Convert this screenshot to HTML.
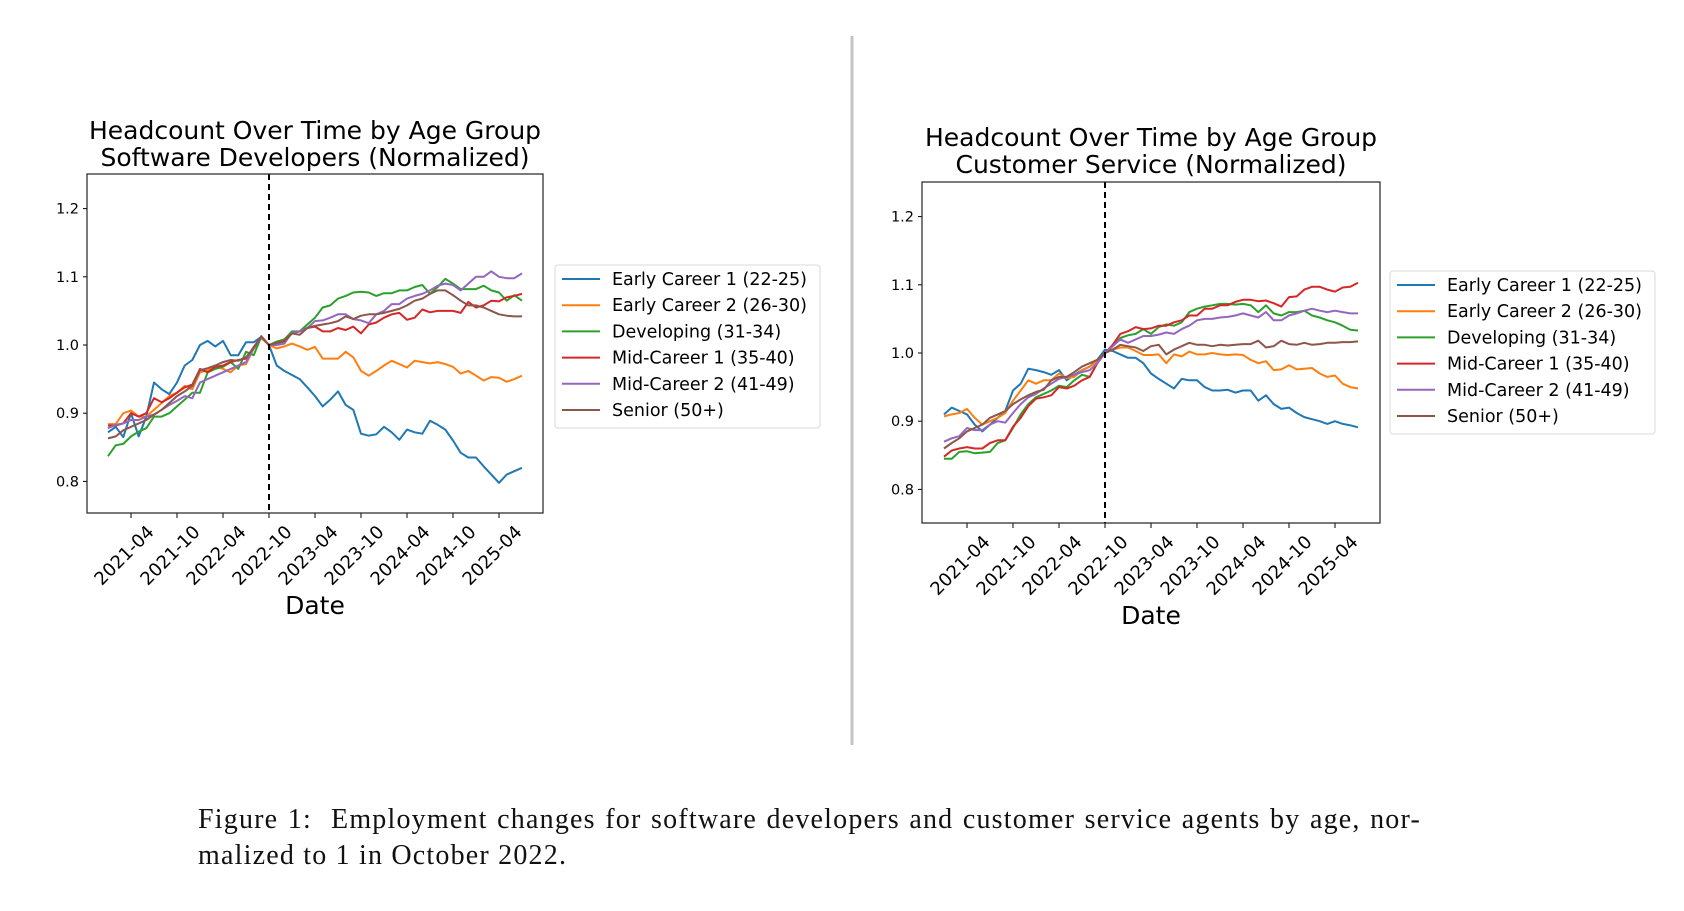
<!DOCTYPE html>
<html><head><meta charset="utf-8"><style>
html,body{margin:0;padding:0;background:#fff;}
svg text{font-family:"DejaVu Sans","Liberation Sans",sans-serif;}
.cap{position:absolute;left:198px;top:802px;width:1223px;font-family:"Liberation Serif",serif;font-size:28px;letter-spacing:1.2px;line-height:36px;color:#111;}
.cap .l1{display:block;text-align:justify;text-align-last:justify;white-space:nowrap;}
.cap .l2{display:block;}
</style></head><body>
<div style="position:relative;width:1684px;height:911px;overflow:hidden;">
<svg id="fig" width="1684" height="911" viewBox="0 0 1684 911">
<line x1="852" y1="36" x2="852" y2="745" stroke="#c4c4c4" stroke-width="3"/>
</svg>
<div class="cap"><span class="l1">Figure 1:&nbsp; Employment changes for software developers and customer service agents by age, nor-</span><span class="l2">malized to 1 in October 2022.</span></div>
</div>
<script>
const seriesNames = ["Early Career 1 (22-25)","Early Career 2 (26-30)","Developing (31-34)","Mid-Career 1 (35-40)","Mid-Career 2 (41-49)","Senior (50+)"];
const monthOffsets = [];
for (let m = -21; m <= 33; m++) monthOffsets.push(m);
const xTickMonths = [-18,-12,-6,0,6,12,18,24,30];
const xTickLabels = ["2021-04","2021-10","2022-04","2022-10","2023-04","2023-10","2024-04","2024-10","2025-04"];
const yTickValues = [0.8,0.9,1.0,1.1,1.2];
const yTickLabels = ["0.8","0.9","1.0","1.1","1.2"];

const swEarly1 = [0.872,0.88,0.865,0.90,0.866,0.895,0.945,0.935,0.928,0.945,0.97,0.978,1.0,1.006,0.998,1.006,0.985,0.985,1.004,1.004,1.012,1.0,0.97,0.962,0.956,0.95,0.938,0.925,0.91,0.92,0.932,0.912,0.905,0.87,0.867,0.869,0.88,0.872,0.861,0.876,0.872,0.87,0.889,0.883,0.876,0.86,0.842,0.835,0.835,0.822,0.81,0.798,0.81,0.815,0.82];
const swEarly2 = [0.884,0.884,0.9,0.904,0.895,0.895,0.905,0.915,0.925,0.93,0.94,0.935,0.96,0.963,0.97,0.965,0.96,0.97,0.972,0.995,1.01,1.0,0.995,0.998,1.002,0.998,0.993,0.997,0.98,0.98,0.98,0.99,0.982,0.962,0.955,0.962,0.97,0.977,0.972,0.967,0.977,0.975,0.973,0.975,0.972,0.968,0.958,0.962,0.955,0.948,0.953,0.952,0.946,0.95,0.955];
const swDev = [0.837,0.853,0.855,0.866,0.873,0.878,0.895,0.895,0.9,0.91,0.92,0.93,0.93,0.96,0.965,0.968,0.975,0.965,0.99,0.985,1.012,1.0,1.005,1.008,1.02,1.02,1.03,1.04,1.055,1.058,1.068,1.072,1.077,1.078,1.077,1.072,1.076,1.076,1.08,1.08,1.085,1.088,1.075,1.085,1.097,1.09,1.082,1.082,1.082,1.087,1.08,1.077,1.065,1.073,1.065];
const swMid1 = [0.882,0.882,0.885,0.9,0.895,0.9,0.922,0.916,0.922,0.93,0.938,0.942,0.965,0.96,0.968,0.97,0.975,0.978,0.98,0.997,1.012,1.0,1.003,1.006,1.017,1.02,1.025,1.027,1.02,1.02,1.025,1.022,1.027,1.017,1.03,1.033,1.04,1.045,1.047,1.037,1.04,1.052,1.048,1.05,1.05,1.05,1.047,1.063,1.055,1.058,1.065,1.064,1.07,1.072,1.075];
const swMid2 = [0.878,0.883,0.885,0.89,0.89,0.895,0.898,0.905,0.912,0.918,0.925,0.922,0.945,0.95,0.955,0.96,0.965,0.97,0.975,0.995,1.012,1.0,1.0,1.002,1.018,1.02,1.025,1.035,1.036,1.04,1.045,1.045,1.038,1.036,1.032,1.045,1.05,1.06,1.06,1.068,1.072,1.075,1.08,1.087,1.09,1.088,1.08,1.09,1.1,1.1,1.108,1.1,1.098,1.098,1.105];
const swSenior = [0.863,0.866,0.875,0.88,0.885,0.89,0.898,0.905,0.915,0.925,0.932,0.94,0.963,0.966,0.97,0.975,0.978,0.977,0.982,0.995,1.013,1.0,1.003,1.005,1.017,1.015,1.025,1.028,1.03,1.032,1.035,1.042,1.038,1.043,1.045,1.045,1.047,1.05,1.053,1.058,1.065,1.068,1.075,1.08,1.08,1.073,1.065,1.058,1.058,1.055,1.05,1.045,1.043,1.042,1.042];

const csEarly1 = [0.91,0.92,0.915,0.91,0.895,0.885,0.895,0.905,0.915,0.945,0.955,0.977,0.975,0.972,0.968,0.975,0.96,0.968,0.975,0.98,0.99,1.005,1.003,0.998,0.993,0.993,0.985,0.97,0.962,0.955,0.948,0.962,0.96,0.96,0.95,0.945,0.945,0.946,0.942,0.945,0.945,0.93,0.938,0.925,0.918,0.92,0.912,0.906,0.903,0.9,0.896,0.9,0.896,0.894,0.891];
const csEarly2 = [0.907,0.91,0.912,0.918,0.905,0.895,0.9,0.905,0.912,0.93,0.945,0.96,0.955,0.96,0.96,0.97,0.963,0.965,0.975,0.98,0.988,1.0,1.005,1.008,1.008,1.003,0.997,0.997,0.998,0.985,0.998,0.995,1.002,0.998,0.998,1.0,0.998,0.997,0.998,0.997,0.99,0.985,0.988,0.975,0.976,0.982,0.976,0.977,0.978,0.97,0.965,0.967,0.955,0.95,0.948];
const csDev = [0.845,0.845,0.855,0.856,0.853,0.854,0.855,0.868,0.872,0.89,0.91,0.925,0.935,0.94,0.945,0.952,0.95,0.96,0.968,0.965,0.985,1.0,1.01,1.022,1.026,1.028,1.035,1.028,1.038,1.042,1.04,1.045,1.06,1.065,1.068,1.07,1.072,1.072,1.071,1.072,1.07,1.06,1.07,1.058,1.055,1.06,1.06,1.062,1.055,1.052,1.048,1.045,1.04,1.034,1.033];
const csMid1 = [0.848,0.857,0.86,0.862,0.86,0.86,0.868,0.872,0.872,0.892,0.905,0.922,0.933,0.935,0.938,0.95,0.948,0.952,0.96,0.965,0.985,1.0,1.012,1.028,1.032,1.038,1.035,1.036,1.04,1.04,1.045,1.048,1.055,1.055,1.065,1.065,1.07,1.07,1.075,1.078,1.078,1.076,1.077,1.073,1.068,1.082,1.083,1.093,1.097,1.097,1.093,1.09,1.096,1.097,1.103];
const csMid2 = [0.87,0.875,0.878,0.89,0.887,0.887,0.895,0.9,0.898,0.912,0.925,0.935,0.94,0.948,0.955,0.962,0.965,0.968,0.972,0.975,0.985,1.0,1.01,1.02,1.015,1.02,1.025,1.025,1.027,1.03,1.028,1.035,1.04,1.048,1.05,1.05,1.052,1.053,1.055,1.058,1.055,1.052,1.06,1.048,1.048,1.055,1.058,1.062,1.065,1.062,1.06,1.062,1.06,1.058,1.058];
const csSenior = [0.86,0.868,0.875,0.885,0.89,0.895,0.905,0.91,0.915,0.925,0.932,0.938,0.943,0.946,0.96,0.965,0.965,0.972,0.98,0.985,0.99,1.0,1.005,1.012,1.01,1.008,1.003,1.01,1.012,0.998,1.005,1.01,1.015,1.012,1.012,1.01,1.012,1.011,1.012,1.013,1.013,1.018,1.008,1.01,1.018,1.013,1.012,1.015,1.012,1.013,1.015,1.015,1.016,1.016,1.017];

const colors = ["#1f77b4","#ff7f0e","#2ca02c","#d62728","#9467bd","#8c564b"];
const NS = "http://www.w3.org/2000/svg";
const svg = document.getElementById('fig');
function mk(tag, attrs, parent){ const e=document.createElementNS(NS,tag); for(const k in attrs) e.setAttribute(k,attrs[k]); (parent||svg).appendChild(e); return e; }

function drawPanel(p){
  const g = mk('g',{});
  
  
  const xs = m => p.dashX + m*7.667;
  const ys = v => p.y1 + (1 - v)*682;
  p.title.forEach((t,i)=>{
    const tt = mk('text',{x:(p.left+p.right)/2, y:p.titleY + i*27, 'text-anchor':'middle','font-size':'25','fill':'#000'}, g);
    tt.textContent = t;
    
    
  });
  yTickValues.forEach((v,i)=>{
    const y = ys(v);
    mk('line',{x1:p.left-4,y1:y,x2:p.left,y2:y,stroke:'#000','stroke-width':1}, g);
    const t = mk('text',{x:p.left-8,y:y+5,'text-anchor':'end','font-size':'14.5',fill:'#000'}, g);
    t.textContent = yTickLabels[i];
    
    
  });
  xTickMonths.forEach((m,i)=>{
    const x = xs(m);
    mk('line',{x1:x,y1:p.bottom,x2:x,y2:p.bottom+5,stroke:'#000','stroke-width':1}, g);
    const ax = x+24, ay = p.bottom+20;
    const t = mk('text',{x:ax,y:ay,'text-anchor':'end','font-size':'18',fill:'#000',transform:`rotate(-45 ${ax} ${ay})`}, g);
    t.textContent = xTickLabels[i];
    
    
  });
  const xl = mk('text',{x:(p.left+p.right)/2,y:p.bottom+101,'text-anchor':'middle','font-size':'25',fill:'#000'}, g);
  xl.textContent = 'Date';
  
  
  p.series.forEach((arr,si)=>{
    const pts = arr.map((v,i)=>xs(monthOffsets[i]).toFixed(1)+','+ys(v).toFixed(1)).join(' ');
    const pl = mk('polyline',{points:pts,fill:'none',stroke:colors[si],'stroke-width':2,'stroke-linejoin':'round'}, g);
    
    
  });
  const dl = mk('line',{x1:p.dashX,y1:p.top,x2:p.dashX,y2:p.bottom,stroke:'#000','stroke-width':2,'stroke-dasharray':'6,4'}, g);
  
  
  const fr = mk('rect',{x:p.left,y:p.top,width:p.right-p.left,height:p.bottom-p.top,fill:'none',stroke:'#222','stroke-width':1.2}, g);
  
  
  const lg = mk('g',{}, g);
  
  
  mk('rect',{x:p.legX,y:p.legY,width:265,height:163,rx:3,fill:'#fff',stroke:'#d8d8d8','stroke-width':1}, lg);
  seriesNames.forEach((n,i)=>{
    const y = p.legY + 14 + i*26.2;
    const e = mk('g',{}, lg);
    
    
    mk('line',{x1:p.legX+7,y1:y,x2:p.legX+45,y2:y,stroke:colors[i],'stroke-width':2}, e);
    const t = mk('text',{x:p.legX+57,y:y+6,'font-size':'17.5',fill:'#000'}, e);
    t.textContent = n;
  });
}

drawPanel({name:'software-developers-chart',left:87,right:543,top:174,bottom:513,dashX:269,y1:345,titleY:139,
  title:['Headcount Over Time by Age Group','Software Developers (Normalized)'],legX:555,legY:265,
  series:[swEarly1,swEarly2,swDev,swMid1,swMid2,swSenior]});
drawPanel({name:'customer-service-chart',left:922,right:1380,top:182,bottom:523,dashX:1105,y1:353,titleY:146,
  title:['Headcount Over Time by Age Group','Customer Service (Normalized)'],legX:1390,legY:271,
  series:[csEarly1,csEarly2,csDev,csMid1,csMid2,csSenior]});
</script>
</body></html>
